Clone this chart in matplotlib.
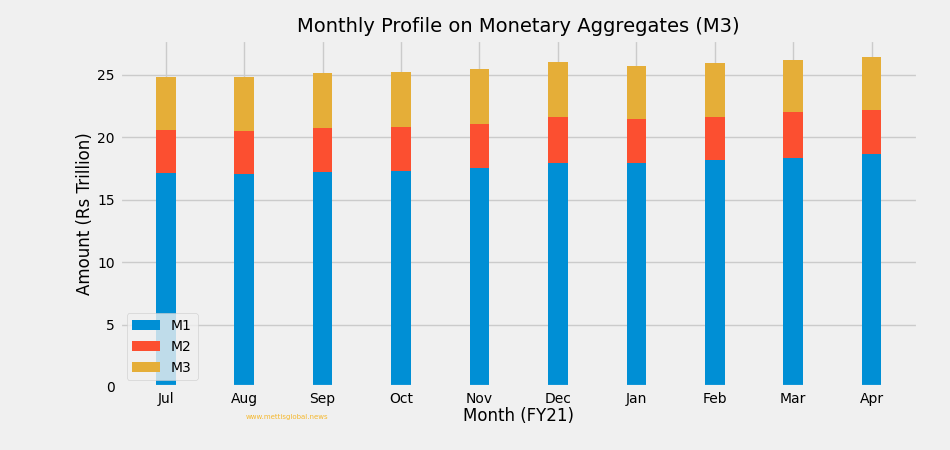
import matplotlib
matplotlib.use("Agg")
import matplotlib.pyplot as plt
import numpy as np

plt.style.use('fivethirtyeight')

# Monthly monetary aggregates, FY21 (Rs trillion)
months = ['Jul', 'Aug', 'Sep', 'Oct', 'Nov', 'Dec', 'Jan', 'Feb', 'Mar', 'Apr']
m1 = [17.12, 17.07, 17.20, 17.33, 17.55, 17.92, 17.92, 18.16, 18.38, 18.70]
m2 = [20.56, 20.51, 20.73, 20.83, 21.05, 21.61, 21.45, 21.66, 22.04, 22.22]
m3 = [24.86, 24.86, 25.13, 25.21, 25.45, 26.01, 25.72, 25.93, 26.23, 26.47]

# stacked segments
m2_part = np.array(m2) - np.array(m1)
m3_part = np.array(m3) - np.array(m2)

fig = plt.figure(figsize=(9.5, 4.5), dpi=100)
ax = fig.add_axes([0.126, 0.14, 0.84, 0.771])

x = np.arange(len(months))
w = 0.25
ax.bar(x, m1, w, label='M1', color='#008fd5')
ax.bar(x, m2_part, w, bottom=m1, label='M2', color='#fc4f30')
ax.bar(x, m3_part, w, bottom=m2, label='M3', color='#e5ae38')

ax.set_xticks(x)
ax.set_xticklabels(months)
ax.tick_params(labelsize=10)
ax.set_xlabel('Month (FY21)', fontsize=12, labelpad=1)
ax.set_ylabel('Amount (Rs Trillion)', fontsize=12, labelpad=2)
ax.set_title('Monthly Profile on Monetary Aggregates (M3)', fontsize=14)
ax.legend(loc='lower left', fontsize=10)

fig.text(0.302, 0.068, 'www.mettisglobal.news', color='#f5b82e', fontsize=5, ha='center')

fig.savefig('out.png', dpi=100, facecolor=fig.get_facecolor())
